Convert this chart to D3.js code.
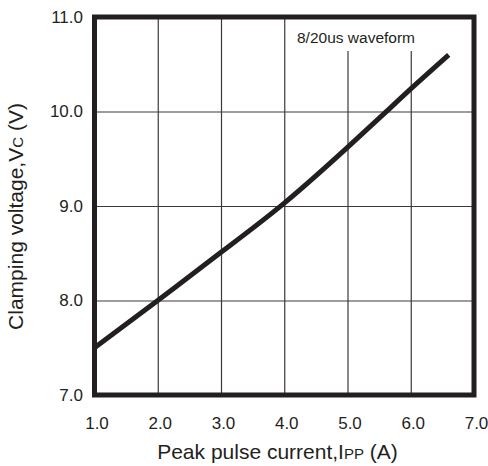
<!DOCTYPE html>
<html>
<head>
<meta charset="utf-8">
<script src="https://cdn.jsdelivr.net/npm/d3@7"></script>
<style>
  body { margin: 0; background: #fff; }
  svg text { font-family: "Liberation Sans", Arial, sans-serif; fill: #231f20; }
</style>
</head>
<body>
<div id="chart"></div>
<script>
// peak pulse current (A) vs clamping voltage (V)
var current = [1.0, 2.0, 3.0, 4.0, 5.0, 5.6, 6.0, 6.6];
var voltage = [7.50, 8.0, 8.51, 9.03, 9.62, 9.99, 10.24, 10.60];
var xTicks = [1, 2, 3, 4, 5, 6, 7];
var yTicks = [7, 8, 9, 10, 11];
var note = "8/20us waveform";

var width = 488, height = 466;
// plot frame edges (window.top is reserved, so keep them in an object)
var plot = { left: 94.5, right: 474, top: 17, bottom: 395 };

var x = d3.scaleLinear().domain([1, 7]).range([plot.left, plot.right]);
var y = d3.scaleLinear().domain([7, 11]).range([plot.bottom, plot.top]);

var svg = d3.select("#chart").append("svg")
    .attr("width", width)
    .attr("height", height);

// gridlines
svg.append("g")
    .attr("class", "grid")
    .attr("transform", "translate(0," + plot.bottom + ")")
    .call(d3.axisBottom(x).tickValues(xTicks).tickSize(-(plot.bottom - plot.top)).tickFormat(""));
svg.append("g")
    .attr("class", "grid")
    .attr("transform", "translate(" + plot.left + ",0)")
    .call(d3.axisLeft(y).tickValues(yTicks).tickSize(-(plot.right - plot.left)).tickFormat(""));
svg.selectAll(".grid .domain").remove();
svg.selectAll(".grid line").attr("stroke", "#3a3a3a").attr("stroke-width", 1.2);

// white patch behind the waveform note
svg.append("rect")
    .attr("x", x(4.15)).attr("y", plot.top)
    .attr("width", plot.right - x(4.15) - 3).attr("height", 34)
    .attr("fill", "#fff");
svg.append("text")
    .attr("x", 297).attr("y", 43)
    .style("font-size", "15.5px")
    .text(note);

// curve
var line = d3.line()
    .curve(d3.curveNatural)
    .x(function (d, i) { return x(current[i]); })
    .y(function (d) { return y(d); });
svg.append("path")
    .datum(voltage)
    .attr("d", line)
    .attr("fill", "none")
    .attr("stroke", "#231f20")
    .attr("stroke-width", 5);

// frame
svg.append("rect")
    .attr("x", plot.left).attr("y", plot.top)
    .attr("width", plot.right - plot.left).attr("height", plot.bottom - plot.top)
    .attr("fill", "none")
    .attr("stroke", "#231f20")
    .attr("stroke-width", 5);

// tick labels
var xAxis = svg.append("g")
    .attr("transform", "translate(2," + plot.bottom + ")")
    .call(d3.axisBottom(x).tickValues(xTicks).tickSize(0).tickPadding(22).tickFormat(d3.format(".1f")));
var yAxis = svg.append("g")
    .attr("transform", "translate(" + plot.left + ",0)")
    .call(d3.axisLeft(y).tickValues(yTicks).tickSize(0).tickPadding(11.5).tickFormat(d3.format(".1f")));
svg.selectAll(".domain").remove();
xAxis.selectAll("text").style("font-size", "17px").attr("fill", "#231f20");
yAxis.selectAll("text").style("font-size", "17px").attr("fill", "#231f20");

// axis titles
var xt = svg.append("text")
    .attr("x", 277.5).attr("y", 459)
    .style("text-anchor", "middle")
    .style("font-size", "21px");
xt.append("tspan").text("Peak pulse current,I");
xt.append("tspan").style("font-size", "15px").text("PP");
xt.append("tspan").text(" (A)");

var yt = svg.append("text")
    .attr("transform", "translate(23,216.5) rotate(-90)")
    .style("text-anchor", "middle")
    .style("font-size", "21px");
yt.append("tspan").text("Clamping voltage,V");
yt.append("tspan").style("font-size", "15px").text("C");
yt.append("tspan").text(" (V)");
</script>
</body>
</html>
